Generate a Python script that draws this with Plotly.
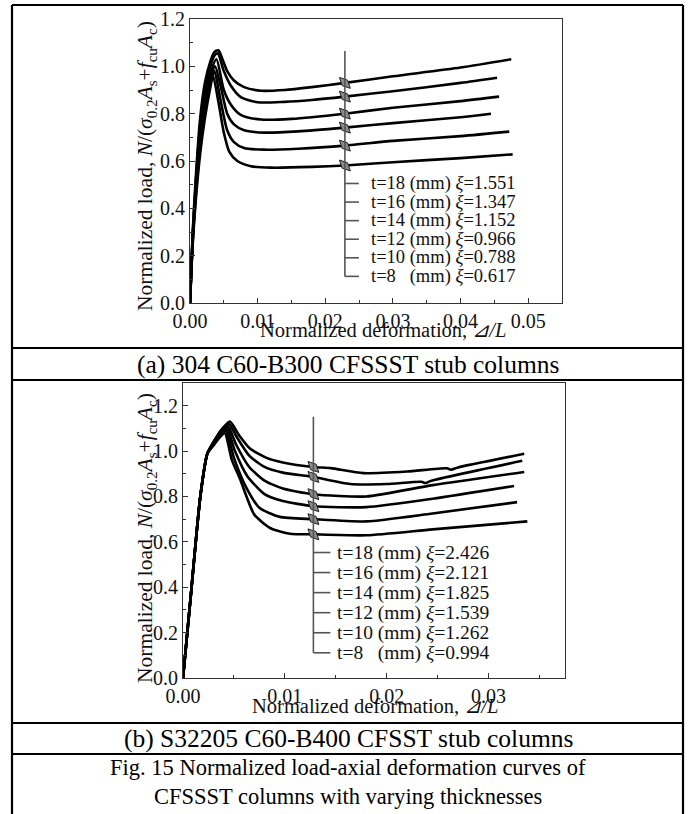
import plotly.graph_objects as go

W, H = 692, 814
FONT = "Liberation Serif, Times New Roman, serif"

# ---------------- Panel (a): 304 C60-B300 ----------------
A_LABELS = ["t=18 (mm) <i>ξ</i>=1.551", "t=16 (mm) <i>ξ</i>=1.347", "t=14 (mm) <i>ξ</i>=1.152",
            "t=12 (mm) <i>ξ</i>=0.966", "t=10 (mm) <i>ξ</i>=0.788", "t=8\u00a0\u00a0\u00a0(mm) <i>ξ</i>=0.617"]

a_t18_x = [0, 0.0004, 0.0009, 0.0015, 0.0022, 0.0030, 0.0036, 0.0042, 0.0048, 0.0055, 0.0065, 0.0080, 0.0105, 0.0140, 0.0180, 0.0229, 0.0300, 0.0400, 0.0475]
a_t18_y = [0, 0.30, 0.55, 0.78, 0.93, 1.02, 1.06, 1.068, 1.03, 0.98, 0.94, 0.912, 0.897, 0.900, 0.912, 0.930, 0.958, 0.995, 1.030]
a_t16_x = [0, 0.0004, 0.0009, 0.0015, 0.0022, 0.0030, 0.0036, 0.0041, 0.0050, 0.0060, 0.0075, 0.0100, 0.0140, 0.0180, 0.0229, 0.0300, 0.0400, 0.0454]
a_t16_y = [0, 0.29, 0.53, 0.75, 0.90, 1.00, 1.045, 1.055, 0.98, 0.92, 0.870, 0.848, 0.850, 0.858, 0.872, 0.895, 0.930, 0.952]
a_t14_x = [0, 0.0004, 0.0009, 0.0015, 0.0022, 0.0030, 0.0039, 0.0050, 0.0060, 0.0075, 0.0105, 0.0150, 0.0229, 0.0300, 0.0400, 0.0457]
a_t14_y = [0, 0.28, 0.51, 0.72, 0.87, 0.97, 1.03, 0.90, 0.84, 0.795, 0.775, 0.778, 0.800, 0.825, 0.853, 0.872]
a_t12_x = [0, 0.0004, 0.0009, 0.0015, 0.0022, 0.0030, 0.0037, 0.0045, 0.0055, 0.0065, 0.0080, 0.0110, 0.0160, 0.0229, 0.0300, 0.0400, 0.0445]
a_t12_y = [0, 0.27, 0.49, 0.69, 0.84, 0.95, 1.00, 0.92, 0.80, 0.755, 0.730, 0.720, 0.725, 0.741, 0.760, 0.785, 0.800]
a_t10_x = [0, 0.0004, 0.0009, 0.0015, 0.0022, 0.0030, 0.0036, 0.0045, 0.0055, 0.0065, 0.0080, 0.0110, 0.0160, 0.0229, 0.0300, 0.0400, 0.0472]
a_t10_y = [0, 0.26, 0.47, 0.66, 0.81, 0.93, 0.98, 0.86, 0.73, 0.68, 0.655, 0.648, 0.652, 0.665, 0.685, 0.705, 0.724]
a_t8_x = [0, 0.0004, 0.0009, 0.0015, 0.0022, 0.0030, 0.0034, 0.0042, 0.0050, 0.0058, 0.0070, 0.0090, 0.0120, 0.0180, 0.0229, 0.0300, 0.0400, 0.0477]
a_t8_y = [0, 0.25, 0.45, 0.63, 0.78, 0.91, 0.96, 0.85, 0.72, 0.64, 0.600, 0.578, 0.572, 0.575, 0.581, 0.595, 0.612, 0.628]

A_MARK_X = 0.0229
A_MARK_Y = [0.930, 0.872, 0.800, 0.741, 0.665, 0.581]
A_XTICKS = [0.00, 0.01, 0.02, 0.03, 0.04, 0.05]
A_YTICKS = [0.0, 0.2, 0.4, 0.6, 0.8, 1.0, 1.2]

# ---------------- Panel (b): S32205 C60-B400 ----------------
B_LABELS = ["t=18 (mm) <i>ξ</i>=2.426", "t=16 (mm) <i>ξ</i>=2.121", "t=14 (mm) <i>ξ</i>=1.825",
            "t=12 (mm) <i>ξ</i>=1.539", "t=10 (mm) <i>ξ</i>=1.262", "t=8\u00a0\u00a0\u00a0(mm) <i>ξ</i>=0.994"]

b_t18_x = [0, 0.0008, 0.0017, 0.0024, 0.0030, 0.0037, 0.0046, 0.0055, 0.0066, 0.0082, 0.0098, 0.0128, 0.0145, 0.0177, 0.0220, 0.0259, 0.0263, 0.0270, 0.0335]
b_t18_y = [0, 0.38, 0.80, 0.99, 1.04, 1.09, 1.13, 1.07, 1.01, 0.97, 0.95, 0.930, 0.925, 0.903, 0.910, 0.924, 0.918, 0.928, 0.988]
b_t16_x = [0, 0.0008, 0.0017, 0.0024, 0.0030, 0.0037, 0.0045, 0.0053, 0.0065, 0.0080, 0.0098, 0.0128, 0.0164, 0.0200, 0.0234, 0.0238, 0.0243, 0.0333]
b_t16_y = [0, 0.38, 0.80, 0.99, 1.04, 1.085, 1.12, 1.06, 0.98, 0.93, 0.905, 0.886, 0.855, 0.855, 0.865, 0.859, 0.868, 0.957]
b_t14_x = [0, 0.0008, 0.0017, 0.0024, 0.0030, 0.0037, 0.0044, 0.0052, 0.0065, 0.0080, 0.0098, 0.0128, 0.0180, 0.0245, 0.0335]
b_t14_y = [0, 0.38, 0.80, 0.99, 1.035, 1.08, 1.11, 1.03, 0.93, 0.87, 0.835, 0.810, 0.800, 0.850, 0.908]
b_t12_x = [0, 0.0008, 0.0017, 0.0024, 0.0030, 0.0037, 0.0043, 0.0051, 0.0063, 0.0080, 0.0098, 0.0128, 0.0180, 0.0245, 0.0325]
b_t12_y = [0, 0.38, 0.80, 0.99, 1.03, 1.075, 1.10, 1.00, 0.89, 0.81, 0.780, 0.757, 0.753, 0.790, 0.846]
b_t10_x = [0, 0.0008, 0.0017, 0.0024, 0.0030, 0.0036, 0.0042, 0.0050, 0.0062, 0.0075, 0.0095, 0.0128, 0.0180, 0.0245, 0.0328]
b_t10_y = [0, 0.38, 0.80, 0.99, 1.03, 1.07, 1.09, 0.97, 0.84, 0.75, 0.710, 0.700, 0.690, 0.725, 0.775]
b_t8_x = [0, 0.0008, 0.0017, 0.0024, 0.0030, 0.0036, 0.0041, 0.0048, 0.0056, 0.0070, 0.0086, 0.0105, 0.0128, 0.0180, 0.0245, 0.0338]
b_t8_y = [0, 0.38, 0.80, 0.99, 1.025, 1.06, 1.08, 0.96, 0.877, 0.72, 0.660, 0.636, 0.633, 0.629, 0.655, 0.690]

B_MARK_X = 0.0128
B_MARK_Y = [0.930, 0.886, 0.810, 0.757, 0.700, 0.633]
B_XTICKS = [0.00, 0.01, 0.02, 0.03]
B_YTICKS = [0.0, 0.2, 0.4, 0.6, 0.8, 1.0, 1.2]

CAPTION_A = "(a) 304 C60-B300 CFSSST stub columns"
CAPTION_B = "(b) S32205 C60-B400 CFSST stub columns"
FIG_CAPTION = ["Fig. 15 Normalized load-axial deformation curves of",
               "CFSSST columns with varying thicknesses"]
Y_TITLE = ("Normalized load, <i>N</i>/(<i>σ</i><sub>0.2</sub><i>A</i><sub>s</sub>+"
           "<i>f</i><sub>cu</sub><i>A</i><sub>c</sub>)")
X_TITLE = "Normalized deformation, <i>⊿/L</i>"


def px(x):
    return x / W


def py(y):
    return 1 - y / H


fig = go.Figure()

a_curves = [(a_t18_x, a_t18_y), (a_t16_x, a_t16_y), (a_t14_x, a_t14_y),
            (a_t12_x, a_t12_y), (a_t10_x, a_t10_y), (a_t8_x, a_t8_y)]
b_curves = [(b_t18_x, b_t18_y), (b_t16_x, b_t16_y), (b_t14_x, b_t14_y),
            (b_t12_x, b_t12_y), (b_t10_x, b_t10_y), (b_t8_x, b_t8_y)]

for xs, ys in a_curves:
    fig.add_trace(go.Scatter(x=xs, y=ys, mode="lines", xaxis="x", yaxis="y",
                             line=dict(color="black", width=2.6, shape="spline", smoothing=0.7),
                             showlegend=False, hoverinfo="skip"))
for xs, ys in b_curves:
    fig.add_trace(go.Scatter(x=xs, y=ys, mode="lines", xaxis="x2", yaxis="y2",
                             line=dict(color="black", width=2.6, shape="spline", smoothing=0.6),
                             showlegend=False, hoverinfo="skip"))

shapes = []
annotations = []

# plot-area geometry in pixels (for converting small pixel offsets to data units)
A_DOM = (190, 562)
B_DOM = (183, 565)
A_XMAX = 0.055
B_XMAX = 0.0375


def legend_block(xref, yref, vx, ytop, y0, step, upp, tick_px, gap_px, labels, fsize):
    ys = [y0 - i * step for i in range(len(labels))]
    shapes.append(dict(type="line", xref=xref, yref=yref, x0=vx, x1=vx, y0=ytop, y1=ys[-1],
                       line=dict(color="#555", width=1.6)))
    for yv, lab in zip(ys, labels):
        shapes.append(dict(type="line", xref=xref, yref=yref, x0=vx, x1=vx + tick_px * upp, y0=yv, y1=yv,
                           line=dict(color="#555", width=1.6)))
        annotations.append(dict(xref=xref, yref=yref, x=vx + gap_px * upp, y=yv, text=lab,
                                showarrow=False, xanchor="left", yanchor="middle", borderpad=0,
                                font=dict(family=FONT, size=fsize, color="#111")))


legend_block("x", "y", A_MARK_X, 1.065, 0.505, 0.0785, A_XMAX / (A_DOM[1] - A_DOM[0]), 14, 25,
             A_LABELS, 18.5)
legend_block("x2", "y2", B_MARK_X, 1.151, 0.553, 0.0884, B_XMAX / (B_DOM[1] - B_DOM[0]), 17, 23,
             B_LABELS, 19.5)

for mx, my, xa, ya in [(A_MARK_X, A_MARK_Y, "x", "y"), (B_MARK_X, B_MARK_Y, "x2", "y2")]:
    fig.add_trace(go.Scatter(x=[mx] * len(my), y=my, mode="markers", xaxis=xa, yaxis=ya,
                             marker=dict(symbol="diamond-tall", size=11, angle=-45, color="#8a8a8a",
                                         line=dict(color="#222", width=1)),
                             showlegend=False, hoverinfo="skip"))

# Table borders
BL, BR, BT = 12, 683, 5
border = dict(color="black", width=2.2)
shapes.append(dict(type="line", xref="paper", yref="paper", x0=px(BL), x1=px(BL), y0=py(BT), y1=0, line=border))
shapes.append(dict(type="line", xref="paper", yref="paper", x0=px(BR), x1=px(BR), y0=py(BT), y1=0, line=border))
for yy in [BT, 348, 380, 723, 754]:
    shapes.append(dict(type="line", xref="paper", yref="paper", x0=px(BL), x1=px(BR), y0=py(yy), y1=py(yy),
                       line=border))

cap_font = dict(family=FONT, size=25.5, color="black")
fig_cap_font = dict(family=FONT, size=22.5, color="black")
annotations.append(dict(xref="paper", yref="paper", x=px(348), y=py(364.5), text=CAPTION_A, showarrow=False,
                        xanchor="center", yanchor="middle", font=cap_font))
annotations.append(dict(xref="paper", yref="paper", x=px(348), y=py(738.5), text=CAPTION_B, showarrow=False,
                        xanchor="center", yanchor="middle", font=cap_font))
annotations.append(dict(xref="paper", yref="paper", x=px(348), y=py(767), text=FIG_CAPTION[0], showarrow=False,
                        xanchor="center", yanchor="middle", font=fig_cap_font))
annotations.append(dict(xref="paper", yref="paper", x=px(348), y=py(796), text=FIG_CAPTION[1], showarrow=False,
                        xanchor="center", yanchor="middle", font=fig_cap_font))

title_font = dict(family=FONT, size=21.5, color="#111")
annotations.append(dict(xref="paper", yref="paper", x=px(147), y=py(166), text=Y_TITLE, textangle=-90,
                        showarrow=False, xanchor="center", yanchor="middle", font=title_font))
annotations.append(dict(xref="paper", yref="paper", x=px(146), y=py(538), text=Y_TITLE, textangle=-90,
                        showarrow=False, xanchor="center", yanchor="middle", font=title_font))
xt_font = dict(family=FONT, size=20.5, color="#111")
annotations.append(dict(xref="paper", yref="paper", x=px(383), y=py(330), text=X_TITLE,
                        showarrow=False, xanchor="center", yanchor="middle", font=xt_font))
annotations.append(dict(xref="paper", yref="paper", x=px(375), y=py(706), text=X_TITLE,
                        showarrow=False, xanchor="center", yanchor="middle", font=xt_font))

tick_font = dict(family=FONT, size=20, color="#111")
axis_common = dict(showline=True, mirror=True, linecolor="#333", linewidth=1.2, ticks="inside",
                   ticklen=5, tickwidth=1.2, tickcolor="#333", showgrid=False, zeroline=False,
                   tickfont=tick_font, fixedrange=True, automargin=False)

fig.update_layout(
    width=W, height=H, autosize=False,
    margin=dict(l=0, r=0, t=0, b=0, pad=0),
    paper_bgcolor="white", plot_bgcolor="white",
    xaxis=dict(domain=[px(A_DOM[0]), px(A_DOM[1])], anchor="y", range=[0, A_XMAX], tickvals=A_XTICKS,
               tickformat=".2f", minor=dict(ticks="inside", ticklen=3, dtick=0.005, tick0=0, tickcolor="#333"),
               **axis_common),
    yaxis=dict(domain=[py(303), py(19)], anchor="x", range=[0, 1.2], tickvals=A_YTICKS,
               tickformat=".1f", minor=dict(ticks="inside", ticklen=3, dtick=0.1, tick0=0, tickcolor="#333"),
               **axis_common),
    xaxis2=dict(domain=[px(B_DOM[0]), px(B_DOM[1])], anchor="y2", range=[0, B_XMAX], tickvals=B_XTICKS,
                tickformat=".2f", minor=dict(ticks="inside", ticklen=3, dtick=0.005, tick0=0, tickcolor="#333"),
                **axis_common),
    yaxis2=dict(domain=[py(678), py(383)], anchor="x2", range=[0, 1.3], tickvals=B_YTICKS,
                tickformat=".1f", minor=dict(ticks="inside", ticklen=3, dtick=0.1, tick0=0, tickcolor="#333"),
                **axis_common),
    shapes=shapes,
    annotations=annotations,
    showlegend=False,
)

fig.write_html("out.html", config={"displayModeBar": False},
               post_script="document.body.style.margin='0';document.body.style.overflow='hidden';")
